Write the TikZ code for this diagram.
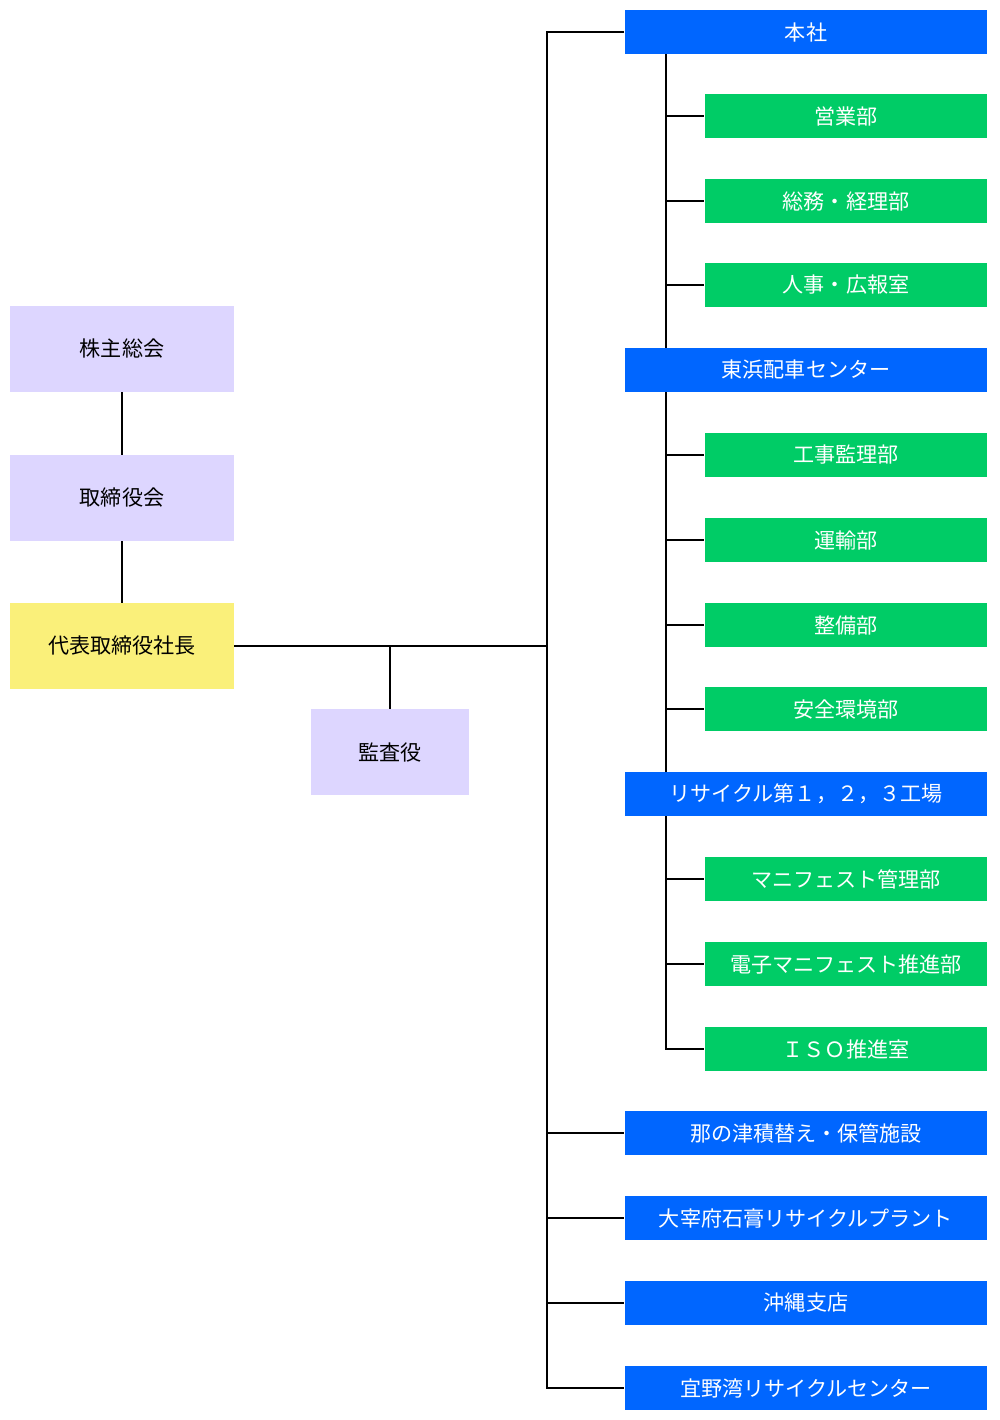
\documentclass[tikz,border=0pt]{standalone}
\usepackage{fontspec}
\setmainfont{Noto Sans CJK JP}
\begin{document}
\begin{tikzpicture}[x=0.02cm,y=-0.02cm,
   organo/.style={fill=lilac,minimum width=4.48cm,minimum height=1.72cm,inner sep=0pt,font=\fontsize{12}{14}\selectfont},
   sede/.style={fill=azul,text=white,minimum width=7.26cm,minimum height=0.88cm,inner sep=0pt,font=\fontsize{12}{14}\selectfont},
   depto/.style={fill=verde,text=white,minimum width=5.66cm,minimum height=0.88cm,inner sep=0pt,font=\fontsize{12}{14}\selectfont},
   linea/.style={line width=1.2pt}]
   \definecolor{lilac}{RGB}{221,214,255}
   \definecolor{amarillo}{RGB}{250,240,122}
   \definecolor{azul}{RGB}{0,102,255}
   \definecolor{verde}{RGB}{0,204,102}
   \useasboundingbox (0,0) rectangle (1000,1420);
   % organos de gobierno
   \node[organo] (junta) at (122,349) {株主総会};
   \node[organo] (consejo) at (122,498) {取締役会};
   \node[organo,fill=amarillo] (presidente) at (122,646) {代表取締役社長};
   \node[organo,minimum width=3.16cm] (auditor) at (390,752) {監査役};
   % sedes
   \node[sede] (honsha) at (806,32) {本社};
   \node[sede] (higashi) at (806,370) {東浜配車センター};
   \node[sede] (recicla) at (806,794) {リサイクル第１，２，３工場};
   \node[sede] (nanotsu) at (806,1133) {那の津積替え・保管施設};
   \node[sede] (dazaifu) at (806,1218) {大宰府石膏リサイクルプラント};
   \node[sede] (okinawa) at (806,1303) {沖縄支店};
   \node[sede] (ginowan) at (806,1388) {宜野湾リサイクルセンター};
   % departamentos
   \node[depto] (eigyo) at (846,116) {営業部};
   \node[depto] (somu) at (846,201) {総務・経理部};
   \node[depto] (jinji) at (846,285) {人事・広報室};
   \node[depto] (koji) at (846,455) {工事監理部};
   \node[depto] (unyu) at (846,540) {運輸部};
   \node[depto] (seibi) at (846,625) {整備部};
   \node[depto] (anzen) at (846,709) {安全環境部};
   \node[depto] (manif) at (846,879) {マニフェスト管理部};
   \node[depto] (denshi) at (846,964) {電子マニフェスト推進部};
   \node[depto] (iso) at (846,1049) {ＩＳＯ推進室};
   % lineas
   \coordinate (tronco) at (547,646);
   \coordinate (rama) at (390,646);
   \draw[linea] (junta) -- (consejo);
   \draw[linea] (consejo) -- (presidente);
   \draw[linea] (presidente.east) -- (tronco);
   \draw[linea] (rama) -- (auditor.north);
   \draw[linea] (honsha.west) -| (tronco) |- (ginowan.west);
   \draw[linea] (tronco |- nanotsu) -- (nanotsu.west);
   \draw[linea] (tronco |- dazaifu) -- (dazaifu.west);
   \draw[linea] (tronco |- okinawa) -- (okinawa.west);
   \coordinate (sub) at (666,0);
   \draw[linea] (sub |- honsha.south) -- (sub |- higashi.north);
   \draw[linea] (sub |- higashi.south) -- (sub |- recicla.north);
   \draw[linea] (sub |- recicla.south) |- (iso.west);
   \foreach \d in {eigyo,somu,jinji,koji,unyu,seibi,anzen,manif,denshi}
      \draw[linea] (sub |- \d) -- (\d.west);
\end{tikzpicture}
\end{document}
